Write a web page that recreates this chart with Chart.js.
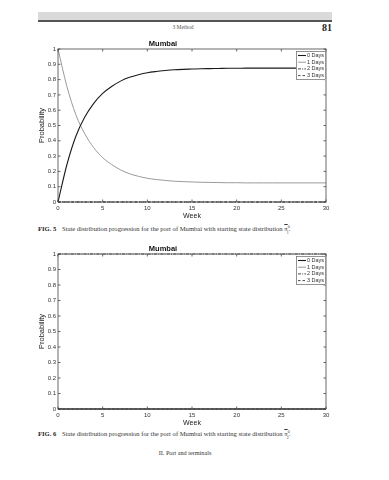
<!DOCTYPE html>
<html>
<head>
<meta charset="utf-8">
<script src="https://cdn.jsdelivr.net/npm/chart.js@4.4.1/dist/chart.umd.min.js"></script>
<style>
  html, body { margin: 0; padding: 0; background: #fff; width: 389px; height: 480px; overflow: hidden; }
  .abs { position: absolute; }
  .band { left: 38px; top: 12px; width: 294px; height: 8px; background: #dadada; }
  .rule { left: 38px; top: 20px; width: 294px; height: 1.5px; background: #555; }
  .serif { font-family: "Liberation Serif", "DejaVu Serif", serif; color: #333; white-space: nowrap; }
  .hdr { left: 0; width: 366px; top: 24px; text-align: center; font-size: 5.5px; color: #555; }
  .pnum { right: 57px; top: 22px; font-size: 10px; font-weight: bold; color: #222; }
  .cap { left: 38px; font-size: 6.6px; }
  .cap b { margin-right: 4px; color: #222; }
  .foot { left: 0; width: 370px; top: 449px; text-align: center; font-size: 6.2px; }
  canvas { position: absolute; left: 0; }
  .ov { text-decoration: overline; }
</style>
</head>
<body>
<div class="abs band"></div>
<div class="abs rule"></div>
<div class="abs serif hdr">3 Method</div>
<div class="abs serif pnum">81</div>
<div style="position:absolute;left:0;top:30px;width:389px;height:192px;"><canvas id="c1"></canvas></div>
<div class="abs serif cap" style="top:224px;"><b>FIG. 5</b> State distribution progression for the port of Mumbai with starting state distribution <span class="ov">π</span><sup style="font-size:4px">0</sup><sub style="font-size:4px;margin-left:-3px">1</sub>.</div>
<div style="position:absolute;left:0;top:235px;width:389px;height:194px;"><canvas id="c2"></canvas></div>
<div class="abs serif cap" style="top:429px;"><b>FIG. 6</b> State distribution progression for the port of Mumbai with starting state distribution <span class="ov">π</span><sup style="font-size:4px">0</sup><sub style="font-size:4px;margin-left:-3px">2</sub>.</div>
<div class="abs serif foot">II. Port and terminals</div>

<script>
// ---- data ----
const weeks = [0,1,2,3,4,5,6,7,8,9,10,11,12,13,14,15,16,17,18,19,20,21,22,23,24,25,26,27,28,29,30];
const seriesLabels = ['0 Days', '1 Days', '2 Days', '3 Days'];
const yTicks = [0,0.1,0.2,0.3,0.4,0.5,0.6,0.7,0.8,0.9,1];
const xTicks = [0,5,10,15,20,25,30];

// Fig. 5 (starting distribution pi_1)
const fig5_0days = [0,0.245,0.43,0.555,0.645,0.71,0.755,0.79,0.815,0.832,0.845,0.853,0.859,0.864,0.867,0.869,0.871,0.872,0.873,0.874,0.874,0.875,0.875,0.875,0.875,0.875,0.875,0.875,0.875,0.875,0.875];
const fig5_1days = [1,0.755,0.57,0.445,0.355,0.29,0.245,0.21,0.185,0.168,0.155,0.147,0.141,0.136,0.133,0.131,0.129,0.128,0.127,0.126,0.126,0.125,0.125,0.125,0.125,0.125,0.125,0.125,0.125,0.125,0.125];
const fig5_2days = [0,0,0,0,0,0,0,0,0,0,0,0,0,0,0,0,0,0,0,0,0,0,0,0,0,0,0,0,0,0,0];
const fig5_3days = [0,0,0,0,0,0,0,0,0,0,0,0,0,0,0,0,0,0,0,0,0,0,0,0,0,0,0,0,0,0,0];

// Fig. 6 (starting distribution pi_2)
const fig6_0days = [0,0,0,0,0,0,0,0,0,0,0,0,0,0,0,0,0,0,0,0,0,0,0,0,0,0,0,0,0,0,0];
const fig6_1days = [0,0,0,0,0,0,0,0,0,0,0,0,0,0,0,0,0,0,0,0,0,0,0,0,0,0,0,0,0,0,0];
const fig6_2days = [1,1,1,1,1,1,1,1,1,1,1,1,1,1,1,1,1,1,1,1,1,1,1,1,1,1,1,1,1,1,1];
const fig6_3days = [0,0,0,0,0,0,0,0,0,0,0,0,0,0,0,0,0,0,0,0,0,0,0,0,0,0,0,0,0,0,0];

// ---- styles ----
const styles = [
  { borderColor: '#1a1a1a', borderWidth: 1.1, borderDash: [] },
  { borderColor: '#9a9a9a', borderWidth: 1.0, borderDash: [] },
  { borderColor: '#333333', borderWidth: 0.9, borderDash: [3, 1.2, 1, 1.2] },
  { borderColor: '#333333', borderWidth: 0.9, borderDash: [2.5, 2] },
];

const SANS = '"Liberation Sans", Arial, sans-serif';

const framePlugin = {
  id: 'frame',
  afterDraw(chart) {
    const { ctx, chartArea: a, scales } = chart;
    ctx.save();
    ctx.strokeStyle = '#444';
    ctx.lineWidth = 0.8;
    ctx.setLineDash([]);
    ctx.strokeRect(a.left, a.top, a.right - a.left, a.bottom - a.top);
    const L = 2.5;
    ctx.beginPath();
    xTicks.forEach(v => {
      const px = scales.x.getPixelForValue(v);
      ctx.moveTo(px, a.bottom); ctx.lineTo(px, a.bottom - L);
      ctx.moveTo(px, a.top); ctx.lineTo(px, a.top + L);
    });
    yTicks.forEach(v => {
      const py = scales.y.getPixelForValue(v);
      ctx.moveTo(a.left, py); ctx.lineTo(a.left + L, py);
      ctx.moveTo(a.right, py); ctx.lineTo(a.right - L, py);
    });
    ctx.stroke();
    ctx.restore();
  }
};

const legendPlugin = {
  id: 'boxLegend',
  afterDraw(chart) {
    const { ctx, chartArea: a } = chart;
    const w = 30, h = 29;
    const x = a.right - w, y = a.top + 2;
    ctx.save();
    ctx.fillStyle = '#fff';
    ctx.fillRect(x, y, w, h);
    ctx.strokeStyle = '#666';
    ctx.lineWidth = 0.7;
    ctx.strokeRect(x + 0.5, y + 0.5, w - 1, h - 1);
    chart.data.datasets.forEach((ds, i) => {
      const ry = y + 4.5 + i * 6.7;
      ctx.strokeStyle = ds.borderColor;
      ctx.lineWidth = ds.borderWidth;
      ctx.setLineDash(ds.borderDash || []);
      ctx.beginPath();
      ctx.moveTo(x + 2, ry);
      ctx.lineTo(x + 10, ry);
      ctx.stroke();
      ctx.setLineDash([]);
      ctx.fillStyle = '#333';
      ctx.font = '5.5px ' + SANS;
      ctx.textBaseline = 'middle';
      ctx.textAlign = 'left';
      ctx.fillText(ds.label, x + 11, ry);
    });
    ctx.restore();
  }
};

function makeChart(id, seriesList) {
  const datasets = seriesList.map((vals, i) => ({
    label: seriesLabels[i],
    data: weeks.map((w, k) => ({ x: w, y: vals[k] })),
    borderColor: styles[i].borderColor,
    borderWidth: styles[i].borderWidth,
    borderDash: styles[i].borderDash,
    pointRadius: 0,
    fill: false,
    cubicInterpolationMode: 'monotone',
    clip: 3,
  }));
  return new Chart(document.getElementById(id), {
    type: 'line',
    data: { datasets },
    plugins: [framePlugin, legendPlugin],
    options: {
      responsive: true,
      maintainAspectRatio: false,
      animation: false,
      layout: { padding: { left: 0, right: 63, top: 0, bottom: 0 } },
      plugins: {
        legend: { display: false },
        tooltip: { enabled: false },
        title: {
          display: true,
          text: 'Mumbai',
          color: '#111',
          font: { family: SANS, size: 7.5, weight: 'bold', lineHeight: 1.2 },
          padding: { top: 9, bottom: 1 },
        },
      },
      scales: {
        x: {
          type: 'linear',
          min: 0, max: 30,
          afterBuildTicks: s => { s.ticks = xTicks.map(v => ({ value: v })); },
          afterFit: s => { s.height = 20; },
          grid: { display: false, drawTicks: false },
          border: { display: false },
          ticks: { color: '#333', font: { family: SANS, size: 6 }, padding: 3, maxRotation: 0, autoSkip: false },
          title: { display: true, text: 'Week', color: '#222', font: { family: SANS, size: 7, lineHeight: 1.2 }, padding: { top: 0, bottom: 1.5 } },
        },
        y: {
          min: 0, max: 1,
          afterBuildTicks: s => { s.ticks = yTicks.map(v => ({ value: v })); },
          afterFit: s => { s.width = 58; },
          grid: { display: false, drawTicks: false },
          border: { display: false },
          ticks: { color: '#333', font: { family: SANS, size: 6 }, padding: 2, autoSkip: false,
                   callback: v => String(Math.round(v * 10) / 10) },
          title: { display: true, text: 'Probability', color: '#222', font: { family: SANS, size: 7.5, lineHeight: 1.2 }, padding: { top: 37, bottom: 0 } },
        },
      },
    },
  });
}

makeChart('c1', [fig5_0days, fig5_1days, fig5_2days, fig5_3days]);
makeChart('c2', [fig6_0days, fig6_1days, fig6_2days, fig6_3days]);
</script>
</body>
</html>
